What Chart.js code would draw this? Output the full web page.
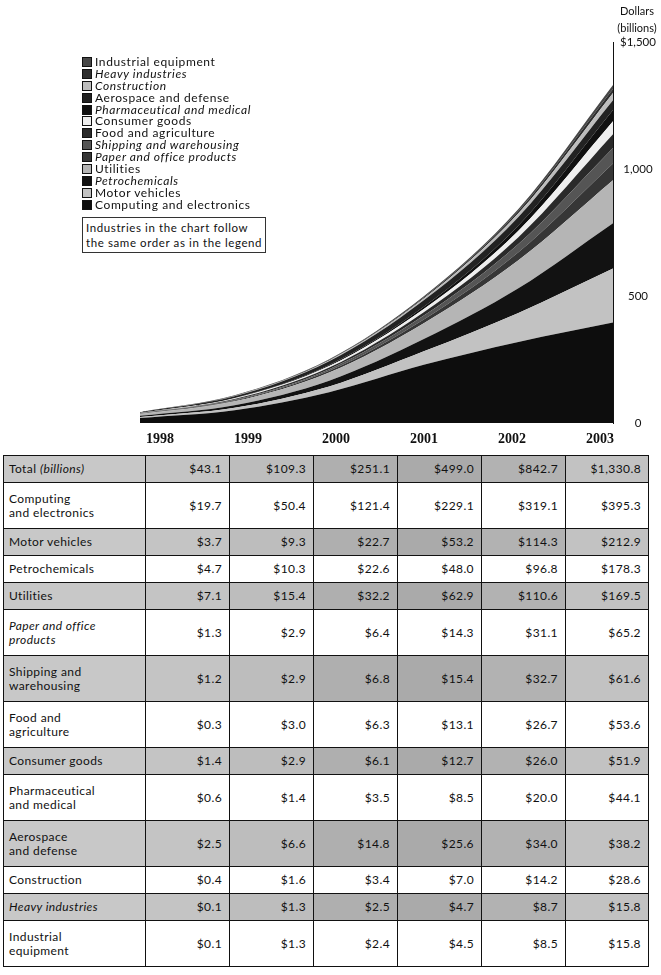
<!DOCTYPE html>
<html>
<head>
<meta charset="utf-8">
<script src="https://cdn.jsdelivr.net/npm/chart.js@4.4.1/dist/chart.umd.min.js"></script>
<style>
body { margin: 0; background: #fff; color: #111; font-family: Lato, "Open Sans", sans-serif; }
#wrap { position: relative; width: 661px; height: 975px; }
#chartBox { position: absolute; left: 0; top: 0; width: 661px; height: 451px; }
#unit { position: absolute; left: 611px; top: 2px; width: 52px; text-align: center; font-size: 11px; line-height: 17px; }
#legend { position: absolute; left: 82px; top: 56px; font-size: 12px; letter-spacing: 0.6px; }
#legend .item { height: 11.9px; line-height: 11.9px; white-space: nowrap; }
#legend .sw { display: inline-block; width: 10px; height: 10px; border: 1px solid #111; box-sizing: border-box; vertical-align: -1px; margin-right: 3px; }
#note { position: absolute; left: 82px; top: 217px; border: 1px solid #333; padding: 2px 3px; font-size: 11.5px; letter-spacing: 0.6px; line-height: 15px; background: #fff; }
#tbl { position: absolute; left: 3px; top: 455px; border-collapse: collapse; font-size: 12px; letter-spacing: 0.4px; table-layout: fixed; }
#tbl td { border: 1.6px solid #111; padding: 0 7px 0 5px; white-space: pre-line; line-height: 14px; }
#tbl td.v { text-align: right; }
#tbl tr.one td { height: 26px; }
#tbl tr.two td { height: 45px; }
.it { font-style: italic; }
</style>
</head>
<body>
<div id="wrap">
  <div id="chartBox"><canvas id="revenueChart"></canvas></div>
  <div id="unit">Dollars<br>(billions)</div>
  <div id="legend"></div>
  <div id="note">Industries in the chart follow<br>the same order as in the legend</div>
  <table id="tbl"></table>
</div>
<script>
var years = ['1998', '1999', '2000', '2001', '2002', '2003'];
var yTicks = [0, 500, 1000, 1500];

// revenue by industry, billions of dollars
var computing     = [19.7, 50.4, 121.4, 229.1, 319.1, 395.3];
var motorVehicles = [3.7, 9.3, 22.7, 53.2, 114.3, 212.9];
var petrochem     = [4.7, 10.3, 22.6, 48.0, 96.8, 178.3];
var utilities     = [7.1, 15.4, 32.2, 62.9, 110.6, 169.5];
var paperOffice   = [1.3, 2.9, 6.4, 14.3, 31.1, 65.2];
var shipping      = [1.2, 2.9, 6.8, 15.4, 32.7, 61.6];
var foodAgri      = [0.3, 3.0, 6.3, 13.1, 26.7, 53.6];
var consumer      = [1.4, 2.9, 6.1, 12.7, 26.0, 51.9];
var pharma        = [0.6, 1.4, 3.5, 8.5, 20.0, 44.1];
var aerospace     = [2.5, 6.6, 14.8, 25.6, 34.0, 38.2];
var construction  = [0.4, 1.6, 3.4, 7.0, 14.2, 28.6];
var heavy         = [0.1, 1.3, 2.5, 4.7, 8.7, 15.8];
var industrial    = [0.1, 1.3, 2.4, 4.5, 8.5, 15.8];
var totals        = [43.1, 109.3, 251.1, 499.0, 842.7, 1330.8];

// bottom of the stack first
var industries = [
  { name: 'Computing and electronics', row: 'Computing\nand electronics', data: computing, color: '#0d0d0d' },
  { name: 'Motor vehicles', row: 'Motor vehicles', data: motorVehicles, color: '#c2c2c2' },
  { name: 'Petrochemicals', row: 'Petrochemicals', data: petrochem, color: '#121212', italic: true },
  { name: 'Utilities', row: 'Utilities', data: utilities, color: '#b5b5b5' },
  { name: 'Paper and office products', row: 'Paper and office\nproducts', data: paperOffice, color: '#363636', italic: true, rowItalic: true },
  { name: 'Shipping and warehousing', row: 'Shipping and\nwarehousing', data: shipping, color: '#555555', italic: true },
  { name: 'Food and agriculture', row: 'Food and\nagriculture', data: foodAgri, color: '#2a2a2a' },
  { name: 'Consumer goods', row: 'Consumer goods', data: consumer, color: '#efefef' },
  { name: 'Pharmaceutical and medical', row: 'Pharmaceutical\nand medical', data: pharma, color: '#101010', italic: true },
  { name: 'Aerospace and defense', row: 'Aerospace\nand defense', data: aerospace, color: '#222222' },
  { name: 'Construction', row: 'Construction', data: construction, color: '#bdbdbd', italic: true },
  { name: 'Heavy industries', row: 'Heavy industries', data: heavy, color: '#2e2e2e', italic: true, rowItalic: true },
  { name: 'Industrial equipment', row: 'Industrial\nequipment', data: industrial, color: '#474747' }
];

function money(v) {
  return '$' + v.toLocaleString('en-US', { minimumFractionDigits: 1, maximumFractionDigits: 1 });
}

var datasets = [];
for (var i in industries) {
  datasets.push({
    label: industries[i].name,
    data: industries[i].data,
    backgroundColor: industries[i].color,
    borderColor: industries[i].color,
    borderWidth: 0,
    pointRadius: 0,
    cubicInterpolationMode: 'monotone',
    fill: i == 0 ? 'origin' : '-1'
  });
}

var ctx = document.getElementById('revenueChart');
var revenueChart = new Chart(ctx, {
  type: 'line',
  data: { labels: years, datasets: datasets },
  options: {
    responsive: true,
    maintainAspectRatio: false,
    animation: false,
    layout: { padding: { left: 140, right: 0, top: 42, bottom: 0 } },
    plugins: { legend: { display: false }, tooltip: { enabled: false } },
    scales: {
      x: { type: 'category', display: false, offset: false },
      yr: {
        type: 'linear', position: 'bottom',
        min: 1997.773, max: 2003.148,
        afterBuildTicks: function(s) { s.ticks = years.map(function(y) { return { value: +y }; }); },
        afterFit: function(s) { s.height = 28; },
        grid: { display: false, drawTicks: false },
        border: { display: false },
        ticks: {
          padding: 8, color: '#111', maxRotation: 0, autoSkip: false,
          font: { family: '"Liberation Serif", serif', weight: 'bold', size: 14 },
          callback: function(v) { return String(v); }
        }
      },
      y: {
        position: 'right', stacked: true, min: 0, max: 1500,
        afterBuildTicks: function(s) { s.ticks = yTicks.map(function(v) { return { value: v }; }); },
        afterFit: function(s) { s.width = 48; },
        grid: { display: false, drawTicks: false },
        border: { display: true, color: '#111', width: 1 },
        ticks: {
          padding: 7, crossAlign: 'center', color: '#111',
          font: { family: 'Lato', size: 11.5 },
          callback: function(v) { return (v === 1500 ? '$' : '') + v.toLocaleString('en-US'); }
        }
      }
    }
  }
});

// legend, top of the stack first
var legend = document.getElementById('legend');
for (var k = industries.length - 1; k >= 0; k--) {
  var it = industries[k];
  var div = document.createElement('div');
  div.className = 'item';
  div.innerHTML = '<span class="sw" style="background:' + it.color + '"></span>' +
    '<span class="' + (it.italic ? 'it' : '') + '">' + it.name + '</span>';
  legend.appendChild(div);
}

// data table under the chart
var shades = ['#c8c8c8', '#c4c4c4', '#bdbdbd', '#afafaf', '#aaaaaa', '#b2b2b2', '#c2c2c2'];
var colW = [142, 84, 84, 84, 84, 84, 83];
var tbl = document.getElementById('tbl');
var cg = '<colgroup>';
for (var c in colW) cg += '<col style="width:' + colW[c] + 'px">';
tbl.innerHTML = cg + '</colgroup>';

function addRow(label, vals, shaded, labelHtml) {
  var tr = document.createElement('tr');
  tr.className = label.indexOf('\n') >= 0 ? 'two' : 'one';
  var html = '<td' + (shaded ? ' style="background:' + shades[0] + '"' : '') + '>' + labelHtml + '</td>';
  for (var j = 0; j < vals.length; j++) {
    html += '<td class="v"' + (shaded ? ' style="background:' + shades[j + 1] + '"' : '') + '>' + money(vals[j]) + '</td>';
  }
  tr.innerHTML = html;
  tbl.appendChild(tr);
}

addRow('Total (billions)', totals, true, 'Total <span class="it">(billions)</span>');
for (var r = 0; r < industries.length; r++) {
  var ind = industries[r];
  addRow(ind.row, ind.data, r % 2 == 1, ind.rowItalic ? '<span class="it">' + ind.row + '</span>' : ind.row);
}
</script>
</body>
</html>
